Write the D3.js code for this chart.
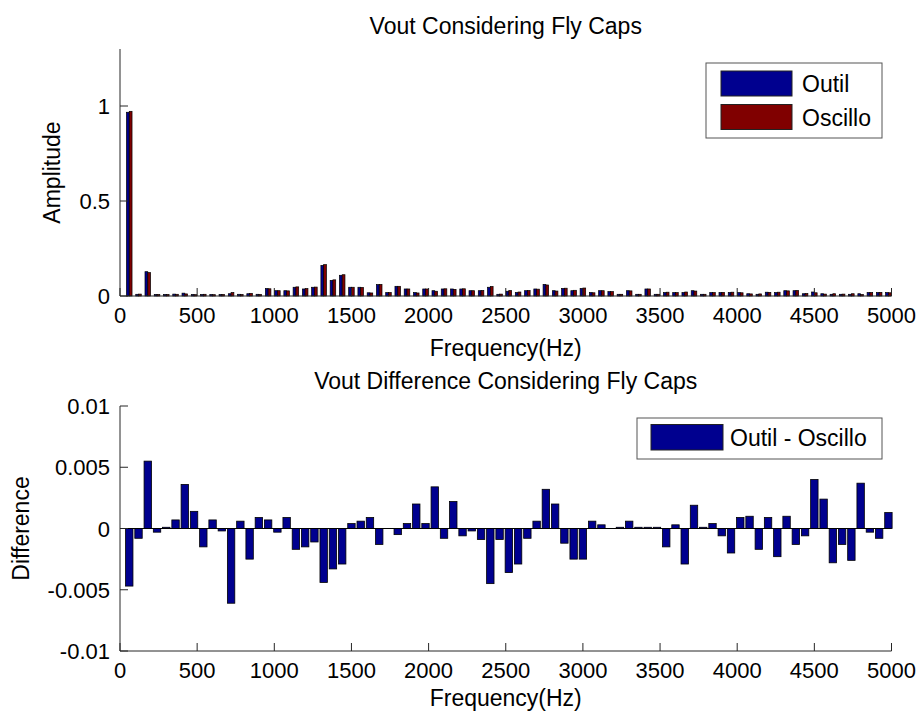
<!DOCTYPE html>
<html>
<head>
<meta charset="utf-8">
<script src="https://cdn.jsdelivr.net/npm/d3@7/dist/d3.min.js"></script>
<style>
  html, body { margin: 0; padding: 0; background: #fff; }
  svg { display: block; }
  text { font-family: "Liberation Sans", Arial, sans-serif; fill: #000; }
</style>
</head>
<body>
<svg id="chart" width="921" height="713"></svg>
<script>
// ---- data (harmonics of 60 Hz, k = 1..83) ----
const harmonicStep = 60;
const harmonicCount = 83;
const frequencies = d3.range(1, harmonicCount + 1).map(k => k * harmonicStep);

const outil = [
  0.967, 0.009, 0.128, 0.008, 0.008, 0.010, 0.015, 0.008, 0.008, 0.008,
  0.008, 0.012, 0.009, 0.012, 0.009, 0.039, 0.028, 0.028, 0.046, 0.037,
  0.046, 0.161, 0.082, 0.109, 0.046, 0.046, 0.017, 0.060, 0.018, 0.051,
  0.037, 0.018, 0.037, 0.028, 0.037, 0.037, 0.037, 0.028, 0.028, 0.046,
  0.009, 0.025, 0.018, 0.028, 0.037, 0.061, 0.028, 0.040, 0.028, 0.040,
  0.018, 0.028, 0.023, 0.009, 0.028, 0.009, 0.037, 0.009, 0.018, 0.018,
  0.018, 0.028, 0.009, 0.018, 0.018, 0.018, 0.018, 0.012, 0.009, 0.020,
  0.018, 0.028, 0.028, 0.012, 0.021, 0.012, 0.009, 0.009, 0.009, 0.012,
  0.018, 0.018, 0.018
];
const oscillo = [
  0.972, 0.010, 0.123, 0.008, 0.008, 0.009, 0.011, 0.007, 0.009, 0.007,
  0.008, 0.018, 0.008, 0.014, 0.008, 0.038, 0.028, 0.027, 0.048, 0.039,
  0.047, 0.165, 0.085, 0.112, 0.046, 0.045, 0.016, 0.061, 0.018, 0.051,
  0.037, 0.016, 0.037, 0.025, 0.038, 0.035, 0.038, 0.028, 0.029, 0.050,
  0.010, 0.029, 0.021, 0.029, 0.036, 0.058, 0.026, 0.041, 0.030, 0.042,
  0.017, 0.028, 0.023, 0.009, 0.027, 0.009, 0.037, 0.009, 0.020, 0.018,
  0.021, 0.026, 0.009, 0.018, 0.019, 0.020, 0.017, 0.011, 0.011, 0.019,
  0.020, 0.027, 0.029, 0.013, 0.017, 0.010, 0.012, 0.010, 0.012, 0.008,
  0.018, 0.019, 0.017
];
const difference = [
  -0.0047, -0.0008, 0.0055, -0.0003, 0.0001, 0.0007, 0.0036, 0.0014, -0.0015, 0.0007,
  -0.0002, -0.0061, 0.0006, -0.0025, 0.0009, 0.0007, -0.0003, 0.0009, -0.0017, -0.0015,
  -0.0011, -0.0044, -0.0033, -0.0029, 0.0004, 0.0006, 0.0009, -0.0013, 0.0000, -0.0005,
  0.0004, 0.0020, 0.0004, 0.0034, -0.0008, 0.0022, -0.0006, -0.0002, -0.0009, -0.0045,
  -0.0009, -0.0036, -0.0029, -0.0008, 0.0006, 0.0032, 0.0020, -0.0012, -0.0025, -0.0025,
  0.0006, 0.0003, 0.0000, 0.0001, 0.0006, 0.0001, 0.0001, 0.0001, -0.0015, 0.0003,
  -0.0029, 0.0019, 0.0001, 0.0004, -0.0006, -0.0020, 0.0009, 0.0010, -0.0017, 0.0009,
  -0.0023, 0.0010, -0.0013, -0.0006, 0.0040, 0.0024, -0.0028, -0.0013, -0.0026, 0.0037,
  -0.0003, -0.0008, 0.0013
];

const xTicks = [0, 500, 1000, 1500, 2000, 2500, 3000, 3500, 4000, 4500, 5000];
const yTicksTop = [0, 0.5, 1];
const yTickLabelsTop = ["0", "0.5", "1"];
const yTicksBottom = [-0.01, -0.005, 0, 0.005, 0.01];
const yTickLabelsBottom = ["-0.01", "-0.005", "0", "0.005", "0.01"];

const seriesNames = ["Outil", "Oscillo"];
const diffName = "Outil - Oscillo";
const titleTop = "Vout Considering Fly Caps";
const titleBottom = "Vout Difference Considering Fly Caps";
const xLabel = "Frequency(Hz)";
const yLabelTop = "Amplitude";
const yLabelBottom = "Difference";

// ---- styling / layout ----
const BLUE = "#00008f", RED = "#800000";
const FS = 22;      // tick labels
const FL = 23;      // titles, axis labels, legends
const svg = d3.select("#chart");

const L = 120, R = 891.5;
const top1 = { y0: 296, y1: 49 };
const top2 = { y0: 651, y1: 406 };

const x1 = d3.scaleLinear().domain([0, 5000]).range([L, R]);
const y1 = d3.scaleLinear().domain([0, 1.3]).range([top1.y0, top1.y1]);
const x2 = d3.scaleLinear().domain([0, 5000]).range([L, R]);
const y2 = d3.scaleLinear().domain([-0.01, 0.01]).range([top2.y0, top2.y1]);

function drawAxes(g, x, y, yTicks, yLabels, yBottom, yTop) {
  const tickLen = 8;
  const ax = g.append("g").attr("stroke", "#262626").attr("stroke-width", 1).attr("fill", "none");
  ax.append("line").attr("x1", L).attr("x2", L).attr("y1", yTop).attr("y2", yBottom);
  ax.append("line").attr("x1", L).attr("x2", R).attr("y1", yBottom).attr("y2", yBottom);
  xTicks.forEach(t => {
    ax.append("line").attr("x1", x(t)).attr("x2", x(t)).attr("y1", yBottom).attr("y2", yBottom - tickLen);
    g.append("text").attr("x", x(t)).attr("y", yBottom + 27).attr("text-anchor", "middle")
      .attr("font-size", FS).text(d3.format("d")(t));
  });
  yTicks.forEach((t, i) => {
    ax.append("line").attr("x1", L).attr("x2", L + tickLen).attr("y1", y(t)).attr("y2", y(t));
    g.append("text").attr("x", L - 10).attr("y", y(t) + 8).attr("text-anchor", "end")
      .attr("font-size", FS).text(yLabels[i]);
  });
}

// ---- top chart ----
const gTop = svg.append("g");
const groupW = 0.6 * harmonicStep;
const barW = groupW / 2;
const bw1 = x1(barW) - x1(0);
const seriesData = [outil, oscillo];
const colors = [BLUE, RED];
seriesData.forEach((vals, s) => {
  gTop.append("g").selectAll("rect").data(vals).join("rect")
    .attr("x", (d, i) => x1(frequencies[i] - groupW / 2 + s * barW))
    .attr("width", bw1)
    .attr("y", d => y1(d))
    .attr("height", d => y1(0) - y1(d))
    .attr("fill", colors[s])
    .attr("stroke", "#000")
    .attr("stroke-width", 0.7);
});
drawAxes(gTop, x1, y1, yTicksTop, yTickLabelsTop, top1.y0, top1.y1);

gTop.append("text").attr("x", (L + R) / 2).attr("y", 34).attr("text-anchor", "middle")
  .attr("font-size", FL).text(titleTop);
gTop.append("text").attr("x", (L + R) / 2).attr("y", 356).attr("text-anchor", "middle")
  .attr("font-size", FL).text(xLabel);
gTop.append("text").attr("transform", `translate(60,${(top1.y0 + top1.y1) / 2}) rotate(-90)`)
  .attr("text-anchor", "middle").attr("font-size", FL).text(yLabelTop);

// legend top
const lg1 = gTop.append("g");
lg1.append("rect").attr("x", 706).attr("y", 63).attr("width", 176).attr("height", 75)
  .attr("fill", "#fff").attr("stroke", "#555").attr("stroke-width", 1);
seriesNames.forEach((n, i) => {
  lg1.append("rect").attr("x", 721).attr("y", 71 + i * 33.5).attr("width", 71).attr("height", 25)
    .attr("fill", colors[i]).attr("stroke", "#222").attr("stroke-width", 1);
  lg1.append("text").attr("x", 802).attr("y", 92 + i * 34).attr("font-size", FL).text(n);
});

// ---- bottom chart ----
const gBot = svg.append("g");
const dW = 0.8 * harmonicStep;
const bw2 = x2(dW) - x2(0);
gBot.append("g").selectAll("rect").data(difference).join("rect")
  .attr("x", (d, i) => x2(frequencies[i] - dW / 2))
  .attr("width", bw2)
  .attr("y", d => Math.min(y2(d), y2(0)))
  .attr("height", d => Math.abs(y2(d) - y2(0)))
  .attr("fill", BLUE)
  .attr("stroke", "#000")
  .attr("stroke-width", 0.8);
gBot.append("line").attr("x1", L).attr("x2", R).attr("y1", y2(0)).attr("y2", y2(0))
  .attr("stroke", "#000").attr("stroke-width", 1);
drawAxes(gBot, x2, y2, yTicksBottom, yTickLabelsBottom, top2.y0, top2.y1);

gBot.append("text").attr("x", (L + R) / 2).attr("y", 389).attr("text-anchor", "middle")
  .attr("font-size", FL).text(titleBottom);
gBot.append("text").attr("x", (L + R) / 2).attr("y", 706).attr("text-anchor", "middle")
  .attr("font-size", FL).text(xLabel);
gBot.append("text").attr("transform", `translate(29,${(top2.y0 + top2.y1) / 2}) rotate(-90)`)
  .attr("text-anchor", "middle").attr("font-size", FL).text(yLabelBottom);

const lg2 = gBot.append("g");
lg2.append("rect").attr("x", 637).attr("y", 418).attr("width", 245).attr("height", 41)
  .attr("fill", "#fff").attr("stroke", "#555").attr("stroke-width", 1);
lg2.append("rect").attr("x", 651).attr("y", 424.5).attr("width", 72).attr("height", 25.5)
  .attr("fill", BLUE).attr("stroke", "#222").attr("stroke-width", 1);
lg2.append("text").attr("x", 730).attr("y", 446).attr("font-size", FL).text(diffName);
</script>
</body>
</html>
